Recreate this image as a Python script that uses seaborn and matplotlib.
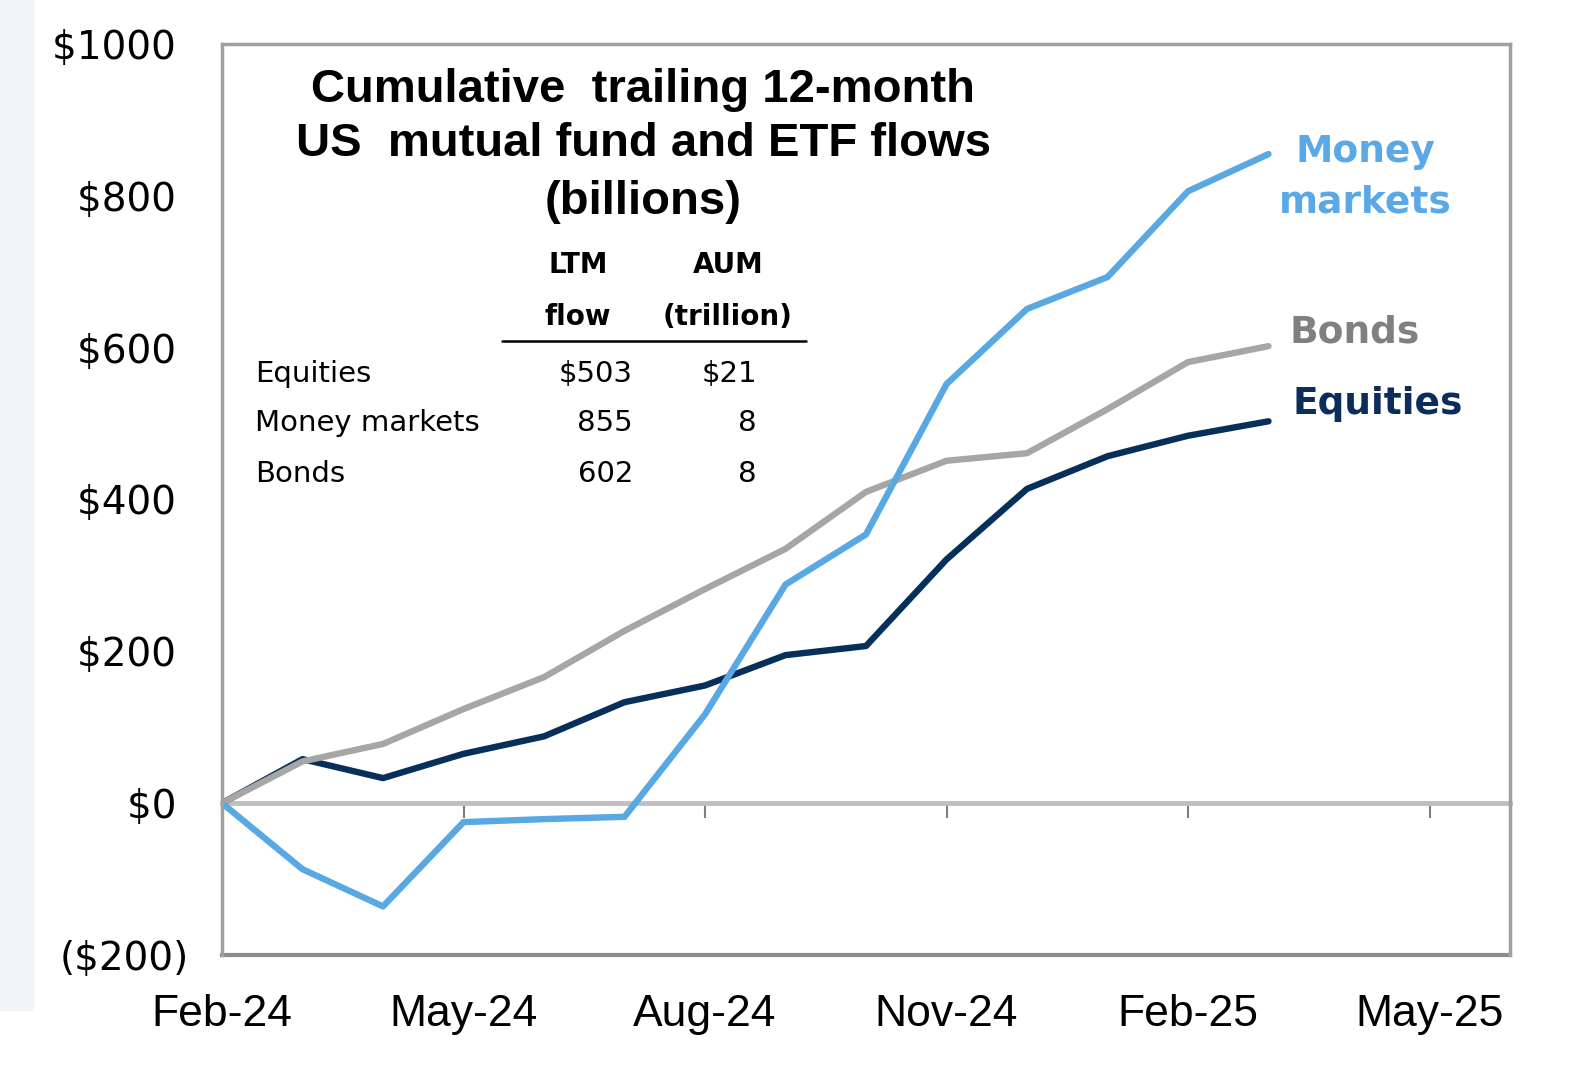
import pandas as pd
import numpy as np
import matplotlib.pyplot as plt
import seaborn as sns
from matplotlib.patches import Rectangle

months = ["Feb-24", "Mar-24", "Apr-24", "May-24", "Jun-24", "Jul-24", "Aug-24",
          "Sep-24", "Oct-24", "Nov-24", "Dec-24", "Jan-25", "Feb-25", "Mar-25"]
equities = [0, 58, 33, 65, 88, 133, 155, 195, 207, 321, 414, 457, 484, 503]
bonds = [0, 55, 78, 124, 166, 227, 282, 335, 410, 451, 461, 519, 581, 602]
money_markets = [0, -87, -136, -25, -21, -18, 117, 288, 354, 552, 651, 693, 806, 855]

tick_labels = ["Feb-24", "May-24", "Aug-24", "Nov-24", "Feb-25", "May-25"]
y_ticks = [-200, 0, 200, 400, 600, 800, 1000]
y_labels = ["($200)", "$0 ", "$200 ", "$400 ", "$600 ", "$800 ", "$1000 "]

table_names = ["Equities", "Money markets", "Bonds"]
table_flow = ["$503", "855", "602"]
table_aum = ["$21", "8", "8"]

colors = {"Equities": "#06305a", "Bonds": "#a6a6a6", "Money markets": "#57a8e3"}

df = pd.DataFrame({
    "month": list(range(len(months))) * 3,
    "flow": equities + bonds + money_markets,
    "series": ["Equities"] * len(months) + ["Bonds"] * len(months) + ["Money markets"] * len(months),
})

sns.set_theme(style="white")
plt.rcParams['font.family'] = ['Liberation Sans', 'DejaVu Sans']
plt.rcParams['text.color'] = 'black'
plt.rcParams['xtick.color'] = 'black'
plt.rcParams['ytick.color'] = 'black'
dv = ['DejaVu Sans']

fig = plt.figure(figsize=(15.75, 10.74), dpi=100)
fig.patches.append(Rectangle((0, 1 - 1010 / 1074), 33 / 1575, 1010 / 1074,
                             transform=fig.transFigure, color="#f2f3f5", zorder=0))
ax = fig.add_axes([222 / 1575, 1 - 955 / 1074, 1288 / 1575, 911 / 1074])

sns.lineplot(data=df, x="month", y="flow", hue="series", palette=colors,
             hue_order=["Equities", "Bonds", "Money markets"],
             linewidth=4.6, legend=False, ax=ax)

ax.set_xlim(0, 16)
ax.set_ylim(-200, 1000)
ax.set_xlabel("")
ax.set_ylabel("")

# zero line carries the month ticks
ax.spines["bottom"].set_position(("data", 0))
ax.spines["bottom"].set_color("#bfbfbf")
ax.spines["bottom"].set_linewidth(3.5)
ax.spines["bottom"].set_zorder(1)
ax.set_xticks(range(0, 16, 3))
ax.tick_params(axis="x", direction="out", length=11, width=1.5, color="#808080",
               labelbottom=False, bottom=True)
for s in ["left", "right", "top"]:
    ax.spines[s].set_color("#a0a0a0")
    ax.spines[s].set_linewidth(2.5)

ax.set_yticks(y_ticks)
ax.set_yticklabels(y_labels, fontsize=28, family=dv)
ax.tick_params(axis="y", length=0, pad=24)

sec = ax.secondary_xaxis(0)
sec.set_xticks(range(0, 16, 3))
sec.set_xticklabels(tick_labels, fontsize=32)
sec.tick_params(length=0, pad=28)
sec.spines["bottom"].set_color("#8c8c8c")
sec.spines["bottom"].set_linewidth(3)

# title
title_lines = ["Cumulative  trailing 12-month", "US  mutual fund and ETF flows", "(billions)"]
for line, yy in zip(title_lines, [0.950, 0.890, 0.827]):
    ax.text(0.327, yy, line, transform=ax.transAxes, ha="center", va="center",
            fontsize=34, fontweight="bold")

# inline table
hdr = dict(transform=ax.transAxes, ha="center", va="center", fontsize=20, fontweight="bold", family=dv)
ax.text(0.2764, 0.7574, "LTM", **hdr)
ax.text(0.2764, 0.7003, "flow", **hdr)
ax.text(0.3929, 0.7574, "AUM", **hdr)
ax.text(0.3929, 0.7003, "(trillion)", **hdr)
ax.plot([0.2174, 0.4534], [0.674, 0.674], transform=ax.transAxes, color="black", lw=1.8)
row = dict(transform=ax.transAxes, va="center", fontsize=21, family=dv)
for name, fl, aum, yy in zip(table_names, table_flow, table_aum, [0.638, 0.584, 0.528]):
    ax.text(0.0256, yy, name, ha="left", **row)
    ax.text(0.3191, yy, fl, ha="right", **row)
    ax.text(0.4154, yy, aum, ha="right", **row)

# series labels
lab = dict(transform=ax.transAxes, va="center", fontsize=27, fontweight="bold", family=dv)
ax.text(0.8874, 0.8814, "Money", ha="center", color="#5aa9e6", **lab)
ax.text(0.8874, 0.8255, "markets", ha="center", color="#5aa9e6", **lab)
ax.text(0.829, 0.6828, "Bonds", ha="left", color="#808080", **lab)
ax.text(0.8315, 0.6048, "Equities", ha="left", color="#0b2d5b", **lab)

fig.savefig("out.png", dpi=100, facecolor="white")
